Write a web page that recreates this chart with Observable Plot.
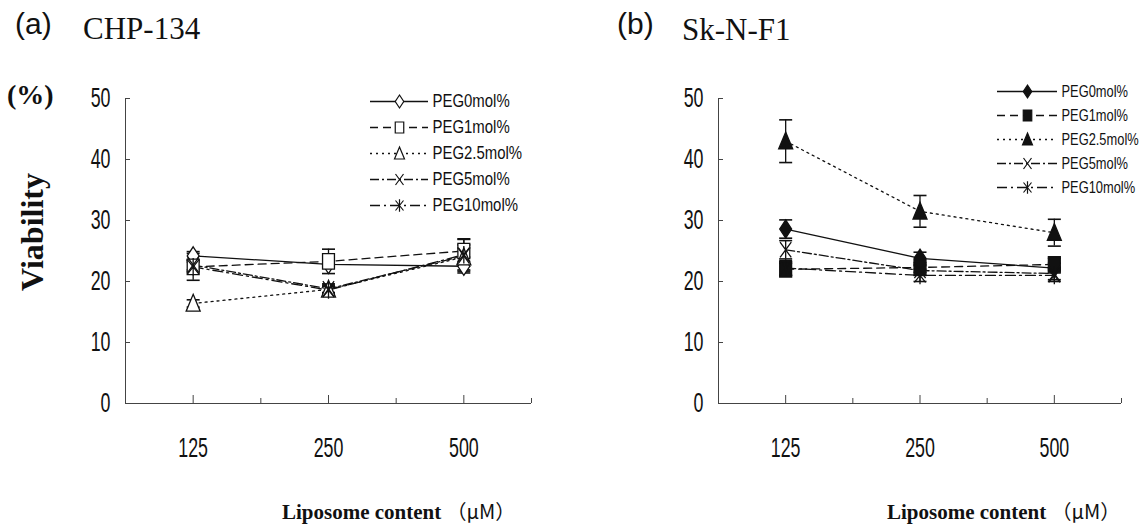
<!DOCTYPE html>
<html><head><meta charset="utf-8">
<script src="https://cdn.jsdelivr.net/npm/d3@7"></script>
<script src="https://cdn.jsdelivr.net/npm/@observablehq/plot@0.6"></script>
<style>
body{margin:0;background:#fff;}
#root{position:relative;width:1144px;height:527px;overflow:hidden;background:#fff;}
#root > svg{position:absolute;}
</style></head><body><div id="root"></div>
<script>
// ---------- data ----------
const concentrations = ["125", "250", "500"];
const series = ["PEG0mol%", "PEG1mol%", "PEG2.5mol%", "PEG5mol%", "PEG10mol%"];
const chp134Values = [
  [24.2, 22.8, 22.5],
  [22.4, 23.3, 25.0],
  [16.4, 18.7, 24.0],
  [22.7, 18.8, 24.2],
  [22.4, 18.6, 24.4]
];
const chp134Errors = [
  [0.7, 0.4, 0.8],
  [2.2, 2.0, 1.0],
  [0.6, 0.5, 1.5],
  [0.8, 0.8, 2.8],
  [0.8, 0.8, 2.5]
];
const sknf1Values = [
  [28.6, 23.8, 22.2],
  [22.0, 22.3, 22.8],
  [43.0, 31.5, 28.0],
  [25.2, 21.8, 21.3],
  [22.2, 21.0, 21.0]
];
const sknf1Errors = [
  [1.5, 1.0, 0.8],
  [1.0, 0.8, 1.0],
  [3.5, 2.6, 2.2],
  [1.5, 0.8, 1.0],
  [1.2, 1.0, 1.0]
];
const yTicks = [0, 10, 20, 30, 40, 50];

// ---------- styles ----------
const INK = "#111";
const NARROW = '"Liberation Sans", Arial, sans-serif';
const dashes = [null, "8,5", "2,4", "9,3,2,3", "10,4,2,4"];
function sym(fn) { return {draw(ctx, size) { const r = Math.sqrt(size / Math.PI); fn(ctx, r); }}; }
const diamond = sym((c, r) => { c.moveTo(0, -1.3 * r); c.lineTo(0.85 * r, 0); c.lineTo(0, 1.3 * r); c.lineTo(-0.85 * r, 0); c.closePath(); });
const rect = sym((c, r) => { c.rect(-0.85 * r, -1.1 * r, 1.7 * r, 2.2 * r); });
const tri = sym((c, r) => { c.moveTo(0, -1.3 * r); c.lineTo(r, 1.1 * r); c.lineTo(-r, 1.1 * r); c.closePath(); });
const times = sym((c, r) => { c.moveTo(-0.8 * r, -1.1 * r); c.lineTo(0.8 * r, 1.1 * r); c.moveTo(0.8 * r, -1.1 * r); c.lineTo(-0.8 * r, 1.1 * r); });
const aster = sym((c, r) => { c.moveTo(-0.8 * r, -1.0 * r); c.lineTo(0.8 * r, 1.0 * r); c.moveTo(0.8 * r, -1.0 * r); c.lineTo(-0.8 * r, 1.0 * r); c.moveTo(0, -1.25 * r); c.lineTo(0, 1.25 * r); });
const cap = sym((c, r) => { c.moveTo(-r, 0); c.lineTo(r, 0); });
const symbols = [diamond, rect, tri, times, aster];
function fillFor(i, filled) { return i < 3 ? (filled ? INK : "white") : "none"; }

function panel(values, errors, filled, marginLeft, marginRight) {
  const rows = [];
  series.forEach((s, i) => concentrations.forEach((c, j) =>
    rows.push({s, i, c, pos: j + 1, v: values[i][j], e: errors[i][j]})));
  const marks = [];
  series.forEach((s, i) => {
    marks.push(Plot.line(rows.filter(d => d.i === i), {x: "pos", y: "v", stroke: INK, strokeWidth: 1.3, strokeDasharray: dashes[i]}));
  });
  marks.push(Plot.ruleX(rows, {x: "pos", y1: d => d.v - d.e, y2: d => d.v + d.e, stroke: INK, strokeWidth: 1.3}));
  marks.push(Plot.dot(rows, {x: "pos", y: d => d.v + d.e, symbol: cap, r: 6.5, stroke: INK, strokeWidth: 1.6}));
  marks.push(Plot.dot(rows, {x: "pos", y: d => d.v - d.e, symbol: cap, r: 6.5, stroke: INK, strokeWidth: 1.6}));
  series.forEach((s, i) => {
    marks.push(Plot.dot(rows.filter(d => d.i === i), {x: "pos", y: "v", symbol: symbols[i], r: 7, fill: fillFor(i, filled), stroke: INK, strokeWidth: 1.3}));
  });
  marks.push(Plot.ruleY([0], {stroke: "#444"}));
  marks.push(Plot.ruleX([0.5], {stroke: "#444"}));
  marks.push(Plot.axisY({ticks: yTicks, tickSize: -5, tickPadding: 20, fontSize: 27, label: null, stroke: "#444"}));
  marks.push(Plot.axisX({ticks: [1, 2, 3], tickSize: -8, tickPadding: 42, tickFormat: d => concentrations[d - 1], fontSize: 27, label: null, stroke: "#444"}));
  marks.push(Plot.axisX({ticks: [1.5, 2.5, 3.5], tickSize: -5, tickFormat: () => "", label: null, stroke: "#444"}));
  return Plot.plot({
    width: 572, height: 527,
    marginLeft, marginRight, marginTop: 98, marginBottom: 124,
    x: {domain: [0.5, 3.5]},
    y: {domain: [0, 50]},
    style: {fontFamily: NARROW, background: "transparent", overflow: "visible", color: INK},
    marks
  });
}

function legend(filled, rowTop, rowBottom, lineWidth, fontSize) {
  const marks = [];
  series.forEach((s, i) => {
    marks.push(Plot.ruleY([s], {y: d => d, x1: 0, x2: 1, stroke: INK, strokeWidth: 1.3, strokeDasharray: dashes[i]}));
    marks.push(Plot.dot([s], {x: 0.5, y: d => d, symbol: symbols[i], r: 5, fill: fillFor(i, filled), stroke: INK, strokeWidth: 1.2}));
  });
  marks.push(Plot.text(series, {x: 1, y: d => d, text: d => d, textAnchor: "start", dx: 4, fontSize, fill: INK}));
  return Plot.plot({
    width: lineWidth + 85, height: rowBottom + 12,
    marginLeft: 0, marginRight: 85, marginTop: 0, marginBottom: 0,
    x: {domain: [0, 1], axis: null},
    y: {type: "point", domain: series, range: [rowTop, rowBottom], axis: null},
    style: {fontFamily: NARROW, background: "transparent", overflow: "visible", color: INK},
    marks
  });
}

// squeeze text horizontally (about its anchor) to imitate the condensed face of the original
function condense(svg, factor) {
  svg.querySelectorAll("text").forEach(t => {
    if (!t.textContent) return;
    let x = parseFloat(t.getAttribute("x"));
    if (!isFinite(x)) x = 0;
    const old = t.getAttribute("transform") || "";
    t.setAttribute("transform", `${old} translate(${x},0) scale(${factor},1) translate(${-x},0)`.trim());
  });
}

const root = document.getElementById("root");
const left = panel(chp134Values, chp134Errors, false, 125, 41);
left.style.left = "0px"; left.style.top = "0px";
root.appendChild(left);
const right = panel(sknf1Values, sknf1Errors, true, 146, 23);
right.style.left = "572px"; right.style.top = "0px";
root.appendChild(right);

const legL = legend(false, 10, 140, 58, 18);
legL.style.left = "370px"; legL.style.top = "78px";
root.appendChild(legL);
const legR = legend(true, 10, 132, 60, 16.5);
legR.style.left = "997px"; legR.style.top = "68px";
root.appendChild(legR);

[left, right].forEach(s => condense(s, 0.66));
condense(legL, 0.83);
condense(legR, 0.78);

// ---------- titles / labels ----------
const ns = "http://www.w3.org/2000/svg";
const over = document.createElementNS(ns, "svg");
over.setAttribute("width", 1144); over.setAttribute("height", 527);
over.style.left = "0px"; over.style.top = "0px"; over.style.pointerEvents = "none";
function addText(str, x, y, font, size, weight, extra) {
  const t = document.createElementNS(ns, "text");
  t.setAttribute("x", x); t.setAttribute("y", y);
  t.setAttribute("font-family", font); t.setAttribute("font-size", size);
  if (weight) t.setAttribute("font-weight", weight);
  t.setAttribute("fill", INK);
  if (extra) for (const k in extra) t.setAttribute(k, extra[k]);
  t.textContent = str;
  over.appendChild(t);
  return t;
}
function addLabel(x, y) {
  const t = addText("Liposome content ", x, y, SERIF, 21, "bold");
  t.setAttribute("xml:space", "preserve");
  const ts = document.createElementNS(ns, "tspan");
  ts.setAttribute("font-family", '"Noto Sans CJK JP", "Liberation Sans", sans-serif');
  ts.setAttribute("font-weight", "normal");
  ts.setAttribute("font-size", 20);
  ts.textContent = "（μM）";
  t.appendChild(ts);
}
const SERIF = '"Liberation Serif", "Times New Roman", serif';
const SANS = '"Liberation Sans", Arial, sans-serif';
addText("(a)", 15, 34, SANS, 30);
addText("CHP-134", 83, 39, SERIF, 31);
addText("(b)", 617, 34, SANS, 30);
addText("Sk-N-F1", 682, 40, SERIF, 31);
addText("(%)", 7, 104, SERIF, 28, "bold");
addText("Viability", 0, 0, SERIF, 32, "bold", {"text-anchor": "middle", transform: "translate(43,232) rotate(-90)"});
addLabel(282, 519);
addLabel(887, 519);
root.appendChild(over);
</script></body></html>
